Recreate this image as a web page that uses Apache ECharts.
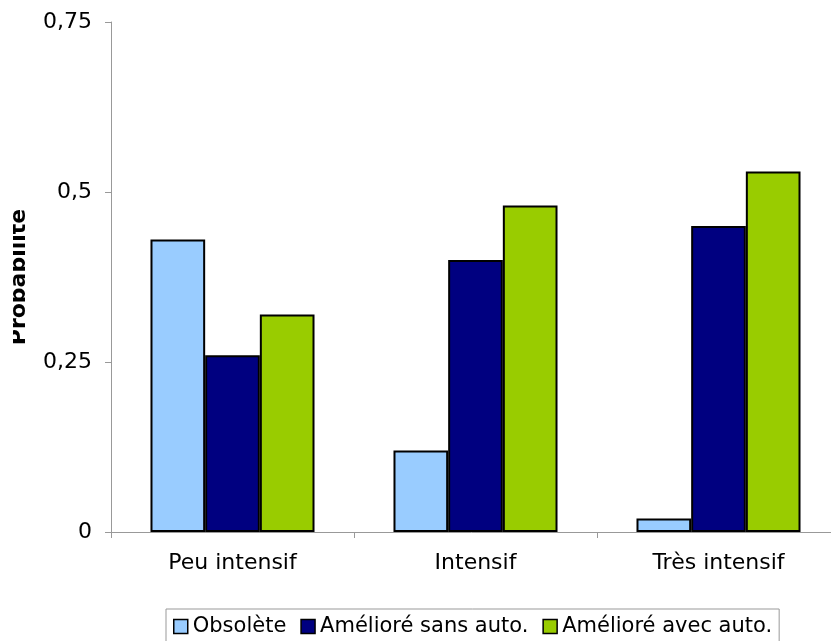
<!DOCTYPE html>
<html>
<head>
<meta charset="utf-8">
<script src="https://cdn.jsdelivr.net/npm/echarts@6/dist/echarts.min.js"></script>
<style>
  html, body { margin: 0; padding: 0; background: #fff; }
  #chart { width: 831px; height: 641px; }
</style>
</head>
<body>
<div id="chart"></div>
<script>
var categories = ['Peu intensif', 'Intensif', 'Très intensif'];
var seriesNames = ['Obsolète', 'Amélioré sans auto.', 'Amélioré avec auto.'];
var obsolete = [0.43, 0.12, 0.02];
var sansAuto = [0.26, 0.40, 0.45];
var avecAuto = [0.32, 0.48, 0.53];
var colors = ['#99CCFF', '#000080', '#99CC00'];

var myChart = echarts.init(document.getElementById('chart'));

function barSeries(name, data, color) {
    return {
        name: name,
        type: 'bar',
        data: data,
        barGap: '0%',
        barCategoryGap: '32.5%',
        itemStyle: { color: color, borderColor: '#000', borderWidth: 2 }
    };
}

var option = {
    animation: false,
    textStyle: { fontFamily: 'DejaVu Sans', color: '#000' },
    grid: { left: 111, right: -9, top: 22, bottom: 109, outerBoundsMode: 'none', containLabel: false },
    legend: {
        data: seriesNames,
        left: 166,
        top: 609,
        padding: [7, 7, 7, 7],
        borderColor: '#999',
        borderWidth: 1,
        itemWidth: 14,
        itemHeight: 14,
        itemGap: 14,
        icon: 'rect',
        itemStyle: { borderColor: '#000', borderWidth: 1.5 },
        textStyle: { fontSize: 21, color: '#000', fontFamily: 'DejaVu Sans' }
    },
    xAxis: {
        type: 'category',
        data: categories,
        axisLine: { lineStyle: { color: '#999', width: 1 } },
        axisTick: { show: true, length: 6, lineStyle: { color: '#999' } },
        axisLabel: { fontSize: 22, color: '#000', margin: 20 }
    },
    yAxis: {
        type: 'value',
        min: 0,
        max: 0.75,
        interval: 0.25,
        name: 'Probabilité',
        nameLocation: 'middle',
        nameRotate: 90,
        nameGap: 81,
        nameTextStyle: { fontSize: 22, fontWeight: 'bold', color: '#000' },
        axisLine: { show: true, lineStyle: { color: '#999', width: 1 } },
        axisTick: { show: true, length: 6, lineStyle: { color: '#999' } },
        splitLine: { show: false },
        axisLabel: {
            fontSize: 22,
            color: '#000',
            margin: 19,
            formatter: function (v) { return String(v).replace('.', ','); }
        }
    },
    graphic: [{
        type: 'rect',
        shape: { x: 0, y: 190, width: 13, height: 180 },
        style: { fill: '#fff' },
        z: 100
    }],
    series: [
        barSeries(seriesNames[0], obsolete, colors[0]),
        barSeries(seriesNames[1], sansAuto, colors[1]),
        barSeries(seriesNames[2], avecAuto, colors[2])
    ]
};
myChart.setOption(option);
</script>
</body>
</html>
